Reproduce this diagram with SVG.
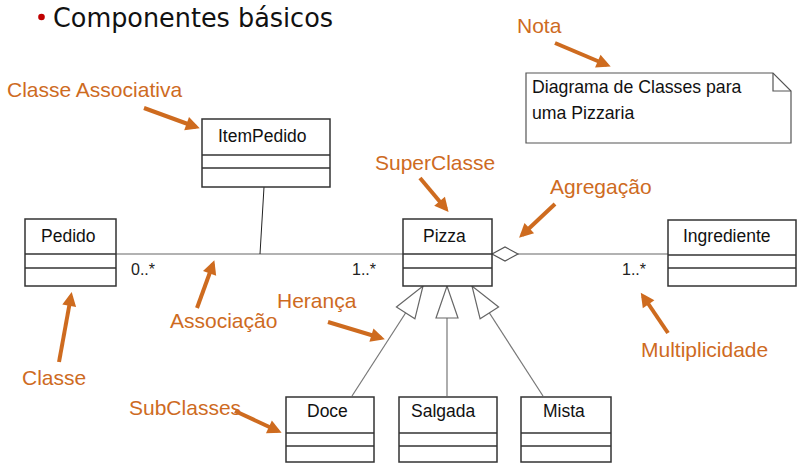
<svg xmlns="http://www.w3.org/2000/svg" width="811" height="472" viewBox="0 0 811 472">
<style>
.box{fill:#fff;stroke:#333;stroke-width:1.5}
.sep{stroke:#333;stroke-width:1.5}
.cls{font-family:"Liberation Sans",Arial,sans-serif;font-size:17.5px;fill:#111}
.lbl{font-family:"Liberation Sans",Arial,sans-serif;font-size:21px;fill:#CE6B1F}
.mult{font-family:"Liberation Sans",Arial,sans-serif;font-size:16px;fill:#222}
.note{font-family:"Liberation Sans",Arial,sans-serif;font-size:17.7px;fill:#111}
.oarrow{stroke:#CE6B1F;stroke-width:4;fill:none;marker-end:url(#ohead)}
.assoc{stroke:#999;stroke-width:1.6;fill:none}
.inh{stroke:#777;stroke-width:1.2;fill:none;marker-end:url(#tri)}
</style>
<defs>
<marker id="ohead" markerUnits="userSpaceOnUse" markerWidth="16" markerHeight="16" refX="10" refY="7" orient="auto" overflow="visible">
<path d="M0,0 L14,7 L0,14 z" fill="#CE6B1F"/>
</marker>
<marker id="tri" markerUnits="userSpaceOnUse" markerWidth="34" markerHeight="24" refX="32" refY="11" orient="auto" overflow="visible">
<path d="M0,0 L32,11 L0,22 z" fill="#fff" stroke="#666" stroke-width="1.2"/>
</marker>
</defs>

<rect width="811" height="472" fill="#fff"/>

<g id="title">
<circle cx="41.5" cy="17" r="3.3" fill="#C00000"/>
<text x="53" y="27" font-family="'DejaVu Sans',Verdana,sans-serif" font-size="26" fill="#111" textLength="280" lengthAdjust="spacingAndGlyphs">Componentes básicos</text>
</g>

<g id="connectors">
<line class="assoc" x1="116" y1="254" x2="403" y2="254"/>
<line x1="264" y1="187" x2="260" y2="254" stroke="#222" stroke-width="1"/>
<line class="assoc" x1="518" y1="254" x2="668" y2="254"/>
<polygon points="492,254 505,247 518,254 505,261" fill="#fff" stroke="#555" stroke-width="1.2"/>
<line class="inh" x1="352" y1="396" x2="423" y2="286"/>
<line class="inh" x1="447" y1="396" x2="447" y2="286"/>
<line class="inh" x1="543" y1="396" x2="472" y2="286"/>
<text class="mult" x="131" y="275">0..*</text>
<text class="mult" x="352" y="275">1..*</text>
<text class="mult" x="622" y="275">1..*</text>
</g>

<g id="note">
<path d="M526,73 L773,73 L791,91 L791,143 L526,143 Z" fill="#fff" stroke="#555" stroke-width="1.2"/>
<path d="M773,73 L773,91 L791,91" fill="none" stroke="#555" stroke-width="1.2"/>
<text class="note" x="532" y="93">Diagrama de Classes para</text>
<text class="note" x="532" y="119">uma Pizzaria</text>
</g>

<g id="ItemPedido">
<rect class="box" x="202" y="119" width="128" height="68"/>
<line class="sep" x1="202" y1="155" x2="330" y2="155"/>
<line class="sep" x1="202" y1="168" x2="330" y2="168"/>
<text class="cls" x="218" y="142">ItemPedido</text>
</g>

<g id="Pedido">
<rect class="box" x="25" y="219" width="91" height="67"/>
<line class="sep" x1="25" y1="254" x2="116" y2="254"/>
<line class="sep" x1="25" y1="268" x2="116" y2="268"/>
<text class="cls" x="41" y="242">Pedido</text>
</g>

<g id="Pizza">
<rect class="box" x="403" y="219" width="89" height="67"/>
<line class="sep" x1="403" y1="254" x2="492" y2="254"/>
<line class="sep" x1="403" y1="268" x2="492" y2="268"/>
<text class="cls" x="423" y="242">Pizza</text>
</g>

<g id="Ingrediente">
<rect class="box" x="668" y="220" width="128" height="66"/>
<line class="sep" x1="668" y1="255" x2="796" y2="255"/>
<line class="sep" x1="668" y1="268" x2="796" y2="268"/>
<text class="cls" x="683" y="242">Ingrediente</text>
</g>

<g id="Doce">
<rect class="box" x="286" y="397" width="88" height="65"/>
<line class="sep" x1="286" y1="433" x2="374" y2="433"/>
<line class="sep" x1="286" y1="446" x2="374" y2="446"/>
<text class="cls" x="307" y="417">Doce</text>
</g>

<g id="Salgada">
<rect class="box" x="399" y="397" width="98" height="65"/>
<line class="sep" x1="399" y1="433" x2="497" y2="433"/>
<line class="sep" x1="399" y1="446" x2="497" y2="446"/>
<text class="cls" x="411" y="417">Salgada</text>
</g>

<g id="Mista">
<rect class="box" x="521" y="397" width="90" height="65"/>
<line class="sep" x1="521" y1="433" x2="611" y2="433"/>
<line class="sep" x1="521" y1="446" x2="611" y2="446"/>
<text class="cls" x="543" y="417">Mista</text>
</g>

<g id="annotations">
<text class="lbl" x="517" y="33">Nota</text>
<line class="oarrow" x1="555" y1="43" x2="607" y2="65"/>
<text class="lbl" x="7" y="97">Classe Associativa</text>
<line class="oarrow" x1="144" y1="108" x2="196" y2="127"/>
<text class="lbl" x="375" y="170">SuperClasse</text>
<line class="oarrow" x1="420" y1="178" x2="446" y2="209"/>
<text class="lbl" x="550" y="194">Agregação</text>
<line class="oarrow" x1="555" y1="204" x2="522" y2="235"/>
<text class="lbl" x="277" y="308">Herança</text>
<line class="oarrow" x1="328" y1="322" x2="381" y2="338"/>
<text class="lbl" x="170" y="328">Associação</text>
<line class="oarrow" x1="197" y1="308" x2="213" y2="264"/>
<text class="lbl" x="22" y="385">Classe</text>
<line class="oarrow" x1="59" y1="362" x2="71" y2="296"/>
<text class="lbl" x="641" y="357">Multiplicidade</text>
<line class="oarrow" x1="668" y1="333" x2="643" y2="296"/>
<text class="lbl" x="129" y="415">SubClasses</text>
<line class="oarrow" x1="235" y1="411" x2="278" y2="431"/>
</g>
</svg>
